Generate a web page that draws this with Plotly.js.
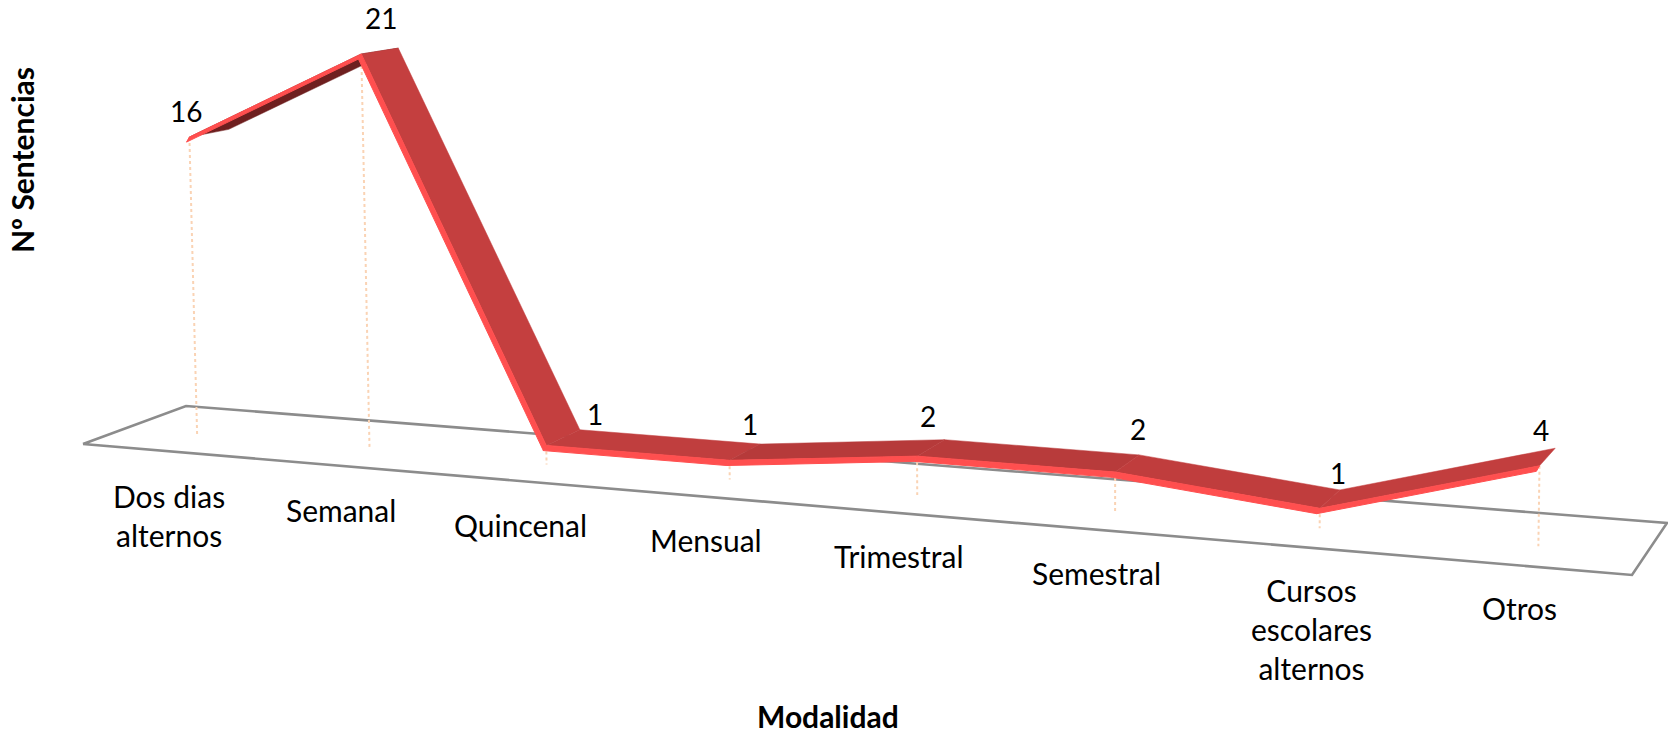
<!DOCTYPE html>
<html><head><meta charset="utf-8">
<script src="https://cdn.plot.ly/plotly-3.0.1.min.js"></script>
<style>html,body{margin:0;padding:0;background:#fff}#c{width:1668px;height:735px}</style>
</head><body><div id="c"></div>
<script>
// ---- data ----
const categories = ["Dos dias<br>alternos","Semanal","Quincenal","Mensual","Trimestral","Semestral","Cursos<br>escolares<br>alternos","Otros"];
const values = [16,21,1,1,2,2,1,4];
const xTitle = "Modalidad";
const yTitle = "Nº Sentencias";

// ---- oblique 3D scale: floor corners in screen px (front-left, front-right, back-right, back-left) ----
const floorQuad = [[83,444],[1632,575],[1667,523],[186,406]];
const unitHeight = 18.75, lean = 0.00003, leanCentre = 1064, backShrink = 0.985;
const ribbonFront = 0.37, ribbonBack = 0.76, faceThickness = 0.27, faceSlant = 3;
const uTweak = [-.0053,-.0061,-.0072,-.0076,-.0087,-.0068,-.0046,.002];
const [p0,p1,p2,p3] = floorQuad;
const sx=p0[0]-p1[0]+p2[0]-p3[0], sy=p0[1]-p1[1]+p2[1]-p3[1];
const dx1=p1[0]-p2[0], dx2=p3[0]-p2[0], dy1=p1[1]-p2[1], dy2=p3[1]-p2[1];
const den=dx1*dy2-dx2*dy1, g=(sx*dy2-dx2*sy)/den, h=(dx1*sy-sx*dy1)/den;
function project(u,d,v){
  const w=1+g*u+h*d;
  const px=(p0[0]+(p1[0]-p0[0]+g*p1[0])*u+(p3[0]-p0[0]+h*p3[0])*d)/w;
  const py=(p0[1]+(p1[1]-p0[1]+g*p1[1])*u+(p3[1]-p0[1]+h*p3[1])*d)/w;
  const rise=unitHeight*v/Math.sqrt(w);
  return [px+lean*(px-leanCentre)*rise, py-rise];
}
const U = i => { const t=(i+0.5)/categories.length; return t-0.0025+0.05*t*(1-t)+uTweak[i]; };

// ---- styles ----
const segColours = ["#6E1F1F","#C43F3F","#C03E3E","#B63A3A","#B83B3B","#C03D3D","#C23E3E","#A83535"];
const faceColour = "#FF4F4F", floorColour = "#8C8C8C", dropColour = "#FAD3B4";
const labelNudge = [[-3,26],[20,36],[49,31],[20,36],[11,40],[23,43],[18,35],[1,36]];
const catNudge = [10,7,7,6,8,5,12,-3];

const traces=[];
// floor
const fx=[],fy=[];
[[0,0],[1,0],[1,1],[0,1],[0,0]].forEach(c=>{const p=project(c[0],c[1],0);fx.push(p[0]);fy.push(p[1]);});
traces.push({x:fx,y:fy,mode:"lines",line:{color:floorColour,width:2.6},hoverinfo:"skip",showlegend:false});
// drop lines
values.forEach((v,i)=>{
  const a=project(U(i),ribbonFront,v), b=project(U(i),ribbonFront,0);
  traces.push({x:[a[0],b[0]],y:[a[1],b[1]],mode:"lines",line:{color:dropColour,width:2,dash:"dot"},hoverinfo:"skip",showlegend:false});
});
// ribbon top surface, segment by segment
for(let i=0;i<values.length-1;i++){
  const q=[project(U(i),ribbonFront,values[i]),project(U(i+1),ribbonFront,values[i+1]),
           project(U(i+1),ribbonBack,values[i+1]*backShrink),project(U(i),ribbonBack,values[i]*backShrink)];
  q.push(q[0]);
  traces.push({x:q.map(p=>p[0]),y:q.map(p=>p[1]),mode:"lines",fill:"toself",fillcolor:segColours[i],
    line:{color:segColours[i],width:0.5},hoverinfo:"skip",showlegend:false});
}
// ribbon front face
for(let i=0;i<values.length-1;i++){
  const a=project(U(i),ribbonFront,values[i]), b=project(U(i+1),ribbonFront,values[i+1]);
  const c=project(U(i+1),ribbonFront,values[i+1]-faceThickness), e=project(U(i),ribbonFront,values[i]-faceThickness);
  const q=[a,b,[c[0]-faceSlant,c[1]],[e[0]-faceSlant,e[1]],a];
  traces.push({x:q.map(p=>p[0]),y:q.map(p=>p[1]),mode:"lines",fill:"toself",fillcolor:faceColour,
    line:{color:faceColour,width:1},hoverinfo:"skip",showlegend:false});
}

const font="Lato, Carlito, Calibri, sans-serif";
const annotations=[];
categories.forEach((c,i)=>{
  const p=project(U(i),0,0);
  annotations.push({x:p[0],y:p[1],xref:"x",yref:"y",text:c,showarrow:false,xanchor:"center",yanchor:"top",
    xshift:catNudge[i],yshift:-26+4*U(i),align:"center",font:{family:font,size:30,color:"#000"}});
});
values.forEach((v,i)=>{
  const p=project(U(i),ribbonFront,v);
  annotations.push({x:p[0],y:p[1],xref:"x",yref:"y",text:String(v),showarrow:false,xanchor:"center",yanchor:"middle",
    xshift:labelNudge[i][0],yshift:labelNudge[i][1],font:{family:font,size:28,color:"#000"}});
});
annotations.push({x:828,y:716,xref:"x",yref:"y",text:"<b>"+xTitle+"</b>",showarrow:false,font:{family:font,size:30,color:"#000"}});
annotations.push({x:22,y:160,xref:"x",yref:"y",text:"<b>"+yTitle+"</b>",textangle:-90,showarrow:false,font:{family:font,size:30,color:"#000"}});

Plotly.newPlot("c",traces,{
  width:1668,height:735,margin:{l:0,r:0,t:0,b:0},paper_bgcolor:"#fff",plot_bgcolor:"#fff",showlegend:false,
  xaxis:{range:[0,1668],visible:false,fixedrange:true},
  yaxis:{range:[735,0],visible:false,fixedrange:true},
  annotations:annotations
},{displayModeBar:false,staticPlot:true});
</script></body></html>
